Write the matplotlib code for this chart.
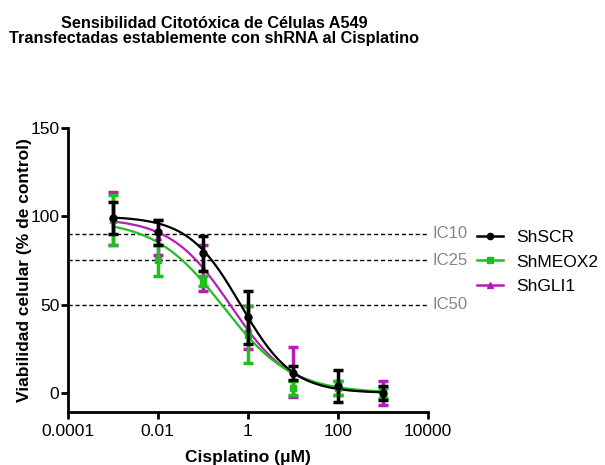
import numpy as np
import matplotlib
matplotlib.use('Agg')
import matplotlib.pyplot as plt

plt.rcParams['font.family'] = ['Liberation Sans', 'DejaVu Sans']

dosis = [0.001, 0.01, 0.1, 1, 10, 100, 1000]

series = ['ShSCR', 'ShMEOX2', 'ShGLI1']
colores = ['#000000', '#1fbf1f', '#b31fb3']
marcadores = ['o', 's', '^']

# viabilidad media y error (lectura aproximada de la figura)
media_scr = [99, 91, 79, 43, 11.5, 4, 0]
err_scr = [9, 7, 10, 15, 4, 9, 4]
media_meox = [98, 75, 63.5, 33, 3, 3, 0]
err_meox = [14, 9, 3, 16, 4, 4, 3]
media_gli = [99, 88, 71, 37, 12, 3, 0]
err_gli = [15, 10, 13, 12, 14, 4, 7]

medias = [media_scr, media_meox, media_gli]
errores = [err_scr, err_meox, err_gli]

# parametros del ajuste sigmoide (top, bottom, logIC50, pendiente)
ajuste_top = [100, 98, 99]
ajuste_bottom = [0, 0, 0]
ajuste_logic50 = [-0.16, -0.55, -0.38]
ajuste_hill = [0.75, 0.57, 0.65]

niveles_ic = [90, 75, 50]
etiquetas_ic = ['IC10', 'IC25', 'IC50']

fig = plt.figure(figsize=(6.05, 4.65), dpi=100)
ax = fig.add_axes([0.112, 0.114, 0.595, 0.611])

for nivel in niveles_ic:
    ax.axhline(nivel, color='black', linestyle=(0, (3, 2)), linewidth=1.0, zorder=1)
for nivel, et in zip(niveles_ic, etiquetas_ic):
    ax.text(1.014, nivel, et, transform=ax.get_yaxis_transform(), color='#858585',
            fontsize=12, va='center', ha='left')

xs = np.logspace(-3, 3, 300)
orden = [2, 1, 0]
handles = {}
for i in orden:
    y = ajuste_bottom[i] + (ajuste_top[i] - ajuste_bottom[i]) / (
        1 + 10 ** ((np.log10(xs) - ajuste_logic50[i]) * ajuste_hill[i]))
    ax.plot(xs, y, color=colores[i], linewidth=1.6, zorder=3 + (2 - i))
    ax.errorbar(dosis, medias[i], yerr=errores[i], fmt=marcadores[i], color=colores[i],
                markersize=5, elinewidth=2.5, capsize=3.5, capthick=2.5,
                zorder=4 + (2 - i))
    h, = ax.plot([], [], color=colores[i], marker=marcadores[i], markersize=4.5, linewidth=1.8)
    handles[i] = h

ax.set_xscale('log')
ax.set_xlim(1e-4, 1e4)
ax.set_ylim(-10.7, 150)
ax.set_xticks([1e-4, 1e-2, 1, 1e2, 1e4])
ax.set_xticklabels(['0.0001', '0.01', '1', '100', '10000'])
ax.xaxis.set_minor_locator(matplotlib.ticker.NullLocator())
ax.set_yticks([0, 50, 100, 150])

for lado in ['top', 'right']:
    ax.spines[lado].set_visible(False)
for lado in ['left', 'bottom']:
    ax.spines[lado].set_linewidth(2)
ax.tick_params(width=2, length=5, labelsize=12.5, direction='out')
ax.tick_params(axis='y', pad=1)

ax.set_xlabel('Cisplatino (\u03bcM)', fontsize=12.5, fontweight='bold', labelpad=8)
ax.set_ylabel('Viabilidad celular (% de control)', fontsize=12.5, fontweight='bold', labelpad=-1)

fig.legend([handles[i] for i in range(3)], series, loc='upper left',
           bbox_to_anchor=(0.788, 0.505), frameon=False, fontsize=12.5,
           borderaxespad=0, borderpad=0,
           handlelength=1.5, handletextpad=0.8, labelspacing=0.52)

fig.text(0.354, 0.966, 'Sensibilidad Citotóxica de Células A549\nTransfectadas establemente con shRNA al Cisplatino',
         ha='center', va='top', fontsize=11.7, fontweight='bold', linespacing=1.0)

fig.savefig('out.png', dpi=100)
